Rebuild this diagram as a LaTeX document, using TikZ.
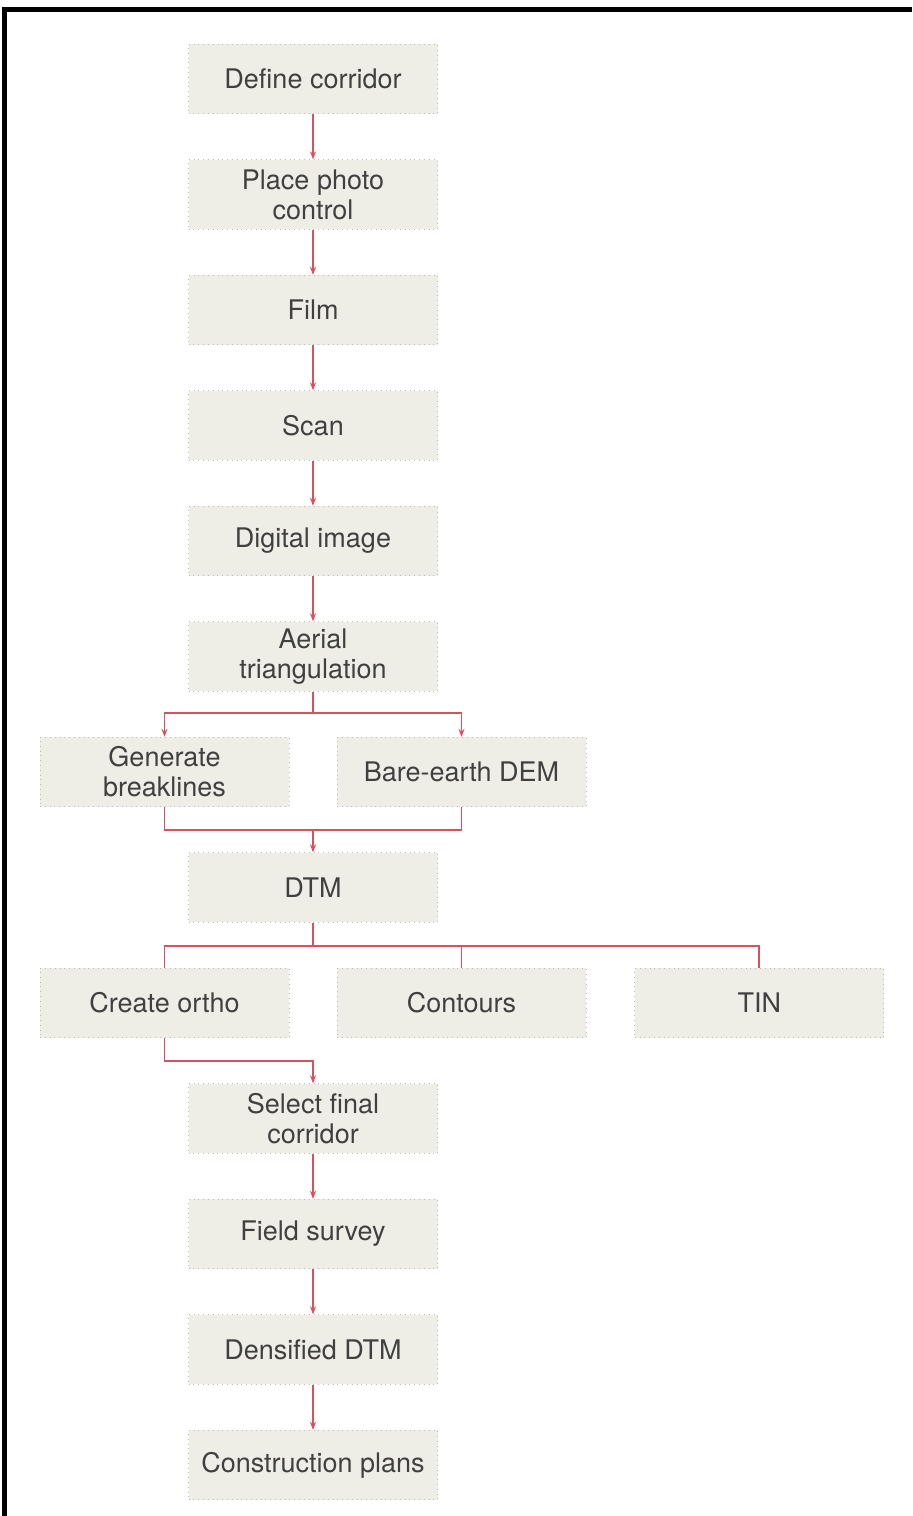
\documentclass[tikz,border=0pt]{standalone}
\usepackage{fontspec}
\setmainfont{TeX Gyre Heros}
\usetikzlibrary{arrows.meta, positioning}

\definecolor{boxfill}{HTML}{EFEEE6}
\definecolor{linkred}{HTML}{D9505F}

\begin{document}
\begin{tikzpicture}[
		stepbox/.style={rectangle, draw=gray!55, dotted, fill=boxfill, text=black!75, minimum width=124.5pt, minimum height=34.75pt, inner sep=0pt, align=center, font=\fontsize{13.5}{15}\selectfont},
		flow/.style={draw=linkred, line width=0.9pt, -{Stealth[length=4pt, width=3pt]}},
		link/.style={draw=linkred, line width=0.9pt},
		node distance=22.6pt and 24pt
		]
		\useasboundingbox (0,0) rectangle (456pt,-758pt);
		\draw[line width=2.5pt] (2.25pt,-758pt) -- (2.25pt,-4.5pt) -- (456pt,-4.5pt);

		\node [stepbox] (corridor) at (156.5pt,-39.5pt) {Define corridor};
		\node [stepbox] (photo) [below=of corridor] {Place photo\\control};
		\node [stepbox] (film) [below=of photo] {Film};
		\node [stepbox] (scan) [below=of film] {Scan};
		\node [stepbox] (digital) [below=of scan] {Digital image};
		\node [stepbox] (aerial) [below=of digital] {Aerial\\triangulation};
		\node [stepbox] (breaklines) [below=of aerial, xshift=-74.25pt] {Generate\\breaklines};
		\node [stepbox] (bare) [below=of aerial, xshift=74.25pt] {Bare-earth DEM};
		\node [stepbox] (dtm) [below=of breaklines, xshift=74.25pt] {DTM};
		\node [stepbox] (create) [below=of dtm, xshift=-74.25pt] {Create ortho};
		\node [stepbox] (contours) [below=of dtm, xshift=74.25pt] {Contours};
		\node [stepbox] (tin) [right=of contours] {TIN};
		\node [stepbox] (select) [below=of create, xshift=74.25pt] {Select final\\corridor};
		\node [stepbox] (field) [below=of select] {Field survey};
		\node [stepbox] (densified) [below=of field] {Densified DTM};
		\node [stepbox] (plans) [below=of densified] {Construction plans};

		\foreach \a/\b in {corridor/photo, photo/film, film/scan, scan/digital, digital/aerial, select/field, field/densified, densified/plans}
			\draw [flow] (\a) -- (\b);

		\draw [flow] (aerial.south) -- ++(0,-10.5pt) -| (breaklines.north);
		\draw [flow] (aerial.south) -- ++(0,-10.5pt) -| (bare.north);
		\draw [link] (breaklines.south) -- ++(0,-11.5pt) -| (bare.south);
		\draw [flow] (breaklines.south) ++(0,-11.5pt) -| (dtm.north);
		\foreach \n in {create, contours, tin}
			\draw [link] (dtm.south) -- ++(0,-11.5pt) -| (\n.north);
		\draw [flow] (create.south) -- ++(0,-11.5pt) -| (select.north);
	\end{tikzpicture}
\end{document}
